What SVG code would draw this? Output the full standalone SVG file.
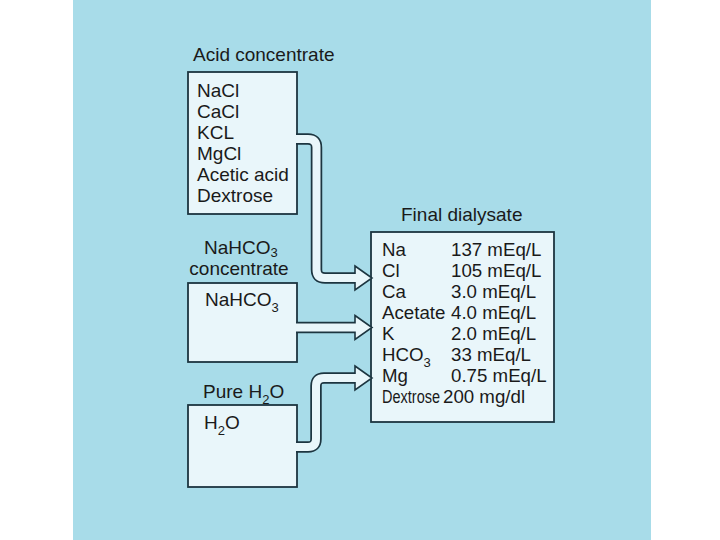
<svg xmlns="http://www.w3.org/2000/svg" width="720" height="540" viewBox="0 0 720 540">
<style>
.bg{fill:#a8dce9}
.box{fill:#e9f6fa;stroke:#1c3540;stroke-width:1.8}
.t{font-family:"Liberation Sans",Arial,sans-serif;font-size:19px;fill:#1a1a1a}
.f{font-family:"Liberation Sans",Arial,sans-serif;font-size:18.7px;fill:#1a1a1a}
.s{font-size:13px}
.bandO{fill:none;stroke:#1c3540;stroke-width:11.5}
.bandI{fill:none;stroke:#e9f6fa;stroke-width:8}
.head{fill:#e9f6fa;stroke:#1c3540;stroke-width:1.6;stroke-linejoin:miter}
</style>
<rect x="0" y="0" width="720" height="540" fill="#ffffff"/>
<rect class="bg" x="73" y="0" width="578" height="540"/>

<g id="acid">
<text class="t" x="193" y="61">Acid concentrate</text>
<rect class="box" x="188" y="72" width="109" height="142"/>
<text class="t" x="197" y="97">NaCl</text>
<text class="t" x="197" y="118">CaCl</text>
<text class="t" x="197" y="139">KCL</text>
<text class="t" x="197" y="160">MgCl</text>
<text class="t" x="197" y="181">Acetic acid</text>
<text class="t" x="197" y="202">Dextrose</text>
</g>

<g id="nahco3">
<text class="t" x="204" y="254">NaHCO<tspan class="s" dy="3">3</tspan></text>
<text class="t" x="239" y="275" text-anchor="middle">concentrate</text>
<rect class="box" x="188" y="283" width="109" height="79"/>
<text class="t" x="205" y="306">NaHCO<tspan class="s" dy="6">3</tspan></text>
</g>

<g id="water">
<text class="t" x="203" y="398">Pure H<tspan class="s" dy="6">2</tspan><tspan dy="-6">O</tspan></text>
<rect class="box" x="188" y="405" width="109" height="82"/>
<text class="t" x="204" y="429">H<tspan class="s" dy="6">2</tspan><tspan dy="-6">O</tspan></text>
</g>

<g id="final">
<text class="t" x="401" y="221">Final dialysate</text>
<rect class="box" x="371" y="232" width="183" height="190"/>
<text class="f" x="382" y="256">Na</text><text class="f" x="451" y="256">137 mEq/L</text>
<text class="f" x="382" y="277">Cl</text><text class="f" x="451" y="277">105 mEq/L</text>
<text class="f" x="382" y="298">Ca</text><text class="f" x="451" y="298">3.0 mEq/L</text>
<text class="f" x="382" y="319">Acetate</text><text class="f" x="451" y="319">4.0 mEq/L</text>
<text class="f" x="382" y="340">K</text><text class="f" x="451" y="340">2.0 mEq/L</text>
<text class="f" x="382" y="361">HCO<tspan class="s" dy="6">3</tspan></text><text class="f" x="451" y="361">33 mEq/L</text>
<text class="f" x="382" y="382">Mg</text><text class="f" x="451" y="382">0.75 mEq/L</text>
<text class="f" x="382" y="403" textLength="58" lengthAdjust="spacingAndGlyphs">Dextrose</text><text class="f" x="443" y="403">200 mg/dl</text>
</g>

<g id="connectors">
<path class="bandO" d="M296,139 H308 Q316.5,139 316.5,147.5 V269.5 Q316.5,278 325,278 H358"/>
<polygon class="head" points="355,266 372,278 355,290"/>
<path class="bandI" d="M296,139 H308 Q316.5,139 316.5,147.5 V269.5 Q316.5,278 325,278 H358"/>

<path class="bandO" d="M296,327.5 H358"/>
<polygon class="head" points="355,315.5 372,327.5 355,339.5"/>
<path class="bandI" d="M296,327.5 H358"/>

<path class="bandO" d="M296,447 H308 Q316,447 316,439 V386 Q316,378 324,378 H358"/>
<polygon class="head" points="355,366 372,378 355,390"/>
<path class="bandI" d="M296,447 H308 Q316,447 316,439 V386 Q316,378 324,378 H358"/>
</g>
</svg>
